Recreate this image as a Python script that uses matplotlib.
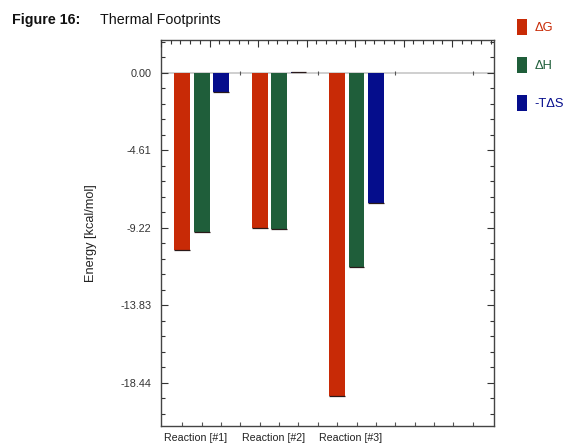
import numpy as np
import matplotlib
matplotlib.use("Agg")
import matplotlib.pyplot as plt
from matplotlib.patches import Patch
from matplotlib.ticker import MultipleLocator, FixedLocator

plt.rcParams['font.family'] = ['Liberation Sans', 'DejaVu Sans']

reactions = ["Reaction [#1]", "Reaction [#2]", "Reaction [#3]"]
delta_g = [-10.54, -9.25, -19.23]
delta_h = [-9.48, -9.28, -11.55]
minus_t_delta_s = [-1.11, 0.03, -7.74]
series_names = ["\u0394G", "\u0394H", "-T\u0394S"]
y_ticks = [0.00, -4.61, -9.22, -13.83, -18.44]

colors = ["#c82a06", "#1f5e3a", "#050d8c"]

fig = plt.figure(figsize=(5.68, 4.46), dpi=100)
ax = fig.add_axes([161 / 568, 1 - 426 / 446, 333 / 568, 386 / 446])

# each reaction occupies four slots: three bars and a spacer
n_groups = 4
slot = np.arange(n_groups * 4)
bar_w = 0.82
series = [delta_g, delta_h, minus_t_delta_s]

ax.axhline(0, color="#cfcfcf", lw=1.4, zorder=1)

for j, (vals, c) in enumerate(zip(series, colors)):
    xs = np.arange(len(vals)) * 4 + j
    ax.bar(xs, vals, width=bar_w, color=c, zorder=2)
    ax.hlines(vals, xs - bar_w / 2, xs + bar_w / 2, color="#2a1a1a", lw=0.9, zorder=3)

# spacer slots carry zero-height markers
spacer_x = np.arange(n_groups) * 4 + 3
ax.plot(spacer_x, np.zeros(n_groups), linestyle="none", marker="|", ms=2.5,
        mew=0.8, color="#555555", zorder=3)

ax.set_xlim(-1.1, 16.1)
ax.set_ylim(-21.0, 1.96)

# y axis
ax.yaxis.set_major_locator(FixedLocator(y_ticks))
ax.set_yticklabels([f"{v:.2f}" for v in y_ticks])
ax.yaxis.set_minor_locator(MultipleLocator(0.922))
ax.tick_params(axis="y", which="both", direction="in", left=True, right=True,
               colors="#333333", labelsize=7.8, pad=7)
ax.tick_params(axis="y", which="major", length=5, width=0.8)
ax.tick_params(axis="y", which="minor", length=3, width=0.8)

# x axis: a small tick at every slot, labels under the reactions
ax.xaxis.set_minor_locator(FixedLocator(slot))
label_pos = np.arange(len(reactions)) * 4 + 0.7
ax.xaxis.set_major_locator(FixedLocator(label_pos))
ax.set_xticklabels(reactions)
ax.tick_params(axis="x", which="major", length=0, labelsize=7.7, colors="#222222", pad=5)
ax.tick_params(axis="x", which="minor", direction="in", length=3, width=0.8,
               color="#555555")

for s in ax.spines.values():
    s.set_color("#444444")
    s.set_linewidth(1.0)

ax.set_ylabel("Energy [kcal/mol]", fontsize=9.2, color="#222222")
ax.yaxis.set_label_coords(-0.191, 0.5)

# top axis ruler
top = ax.twiny()
top.set_xlim(0, 333 / 48.5)
top.xaxis.set_major_locator(MultipleLocator(1))
top.xaxis.set_minor_locator(MultipleLocator(0.2))
top.tick_params(axis="x", which="both", direction="in", labeltop=False,
                color="#333333", width=0.8)
top.tick_params(axis="x", which="major", length=5)
top.tick_params(axis="x", which="minor", length=3)
for s in top.spines.values():
    s.set_visible(False)

# title
fig.text(12 / 568, 1 - 20 / 446, "Figure 16:", fontsize=10.3, fontweight="bold",
         color="#111111", va="center")
fig.text(100 / 568, 1 - 20 / 446, "Thermal Footprints", fontsize=10.3,
         color="#111111", va="center")

# legend
handles = [Patch(facecolor=c, edgecolor="none") for c in colors]
fig.legend(handles, series_names, loc="upper left",
           bbox_to_anchor=(505 / 568, 1 - 7 / 446), frameon=False,
           handlelength=0.78, handleheight=1.55, handletextpad=0.62,
           labelspacing=1.7, fontsize=9.3, labelcolor=colors)

fig.savefig("out.png", dpi=100)
